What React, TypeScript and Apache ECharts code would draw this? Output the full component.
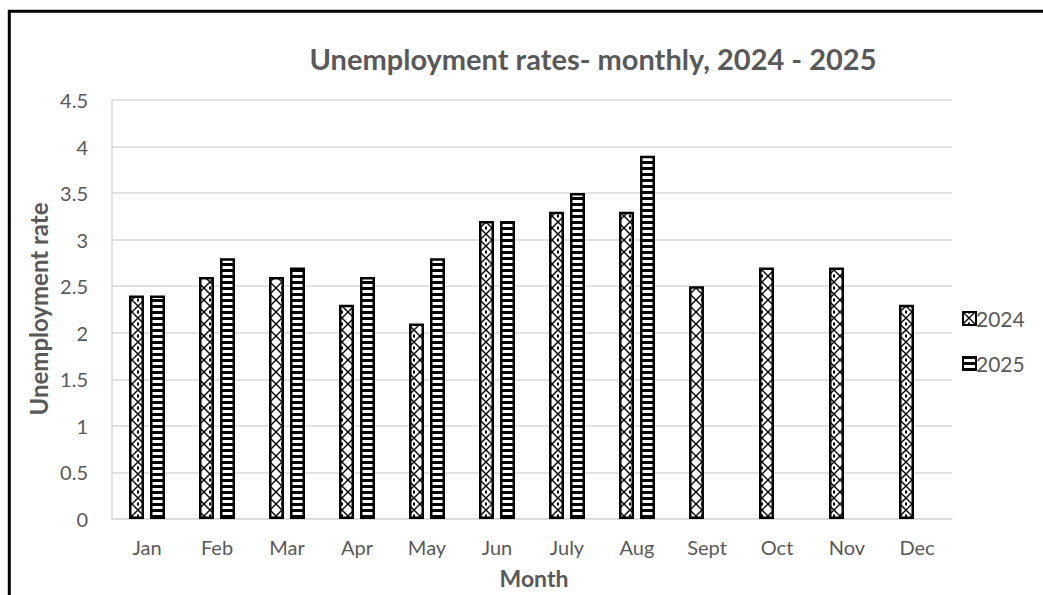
import React, { useEffect, useRef } from 'react';
import * as echarts from 'echarts';

const months = ['Jan', 'Feb', 'Mar', 'Apr', 'May', 'Jun', 'July', 'Aug', 'Sept', 'Oct', 'Nov', 'Dec'];
const rates2024 = [2.4, 2.6, 2.6, 2.3, 2.1, 3.2, 3.3, 3.3, 2.5, 2.7, 2.7, 2.3];
const rates2025 = [2.4, 2.8, 2.7, 2.6, 2.8, 3.2, 3.5, 3.9, null, null, null, null];
const seriesNames = ['2024', '2025'];
const titleText = 'Unemployment rates- monthly, 2024 - 2025';
const yAxisTitle = 'Unemployment rate';
const xAxisTitle = 'Month';

const FONT = 'Lato, "Open Sans", sans-serif';
const GRAY = '#595959';

function crossTile(): HTMLCanvasElement {
  const s = 12;
  const c = document.createElement('canvas');
  c.width = s;
  c.height = s;
  const g = c.getContext('2d')!;
  g.fillStyle = '#ffffff';
  g.fillRect(0, 0, s, s);
  g.strokeStyle = '#000000';
  g.lineWidth = 1.4;
  g.beginPath();
  g.moveTo(0, 0);
  g.lineTo(s, s);
  g.moveTo(s, 0);
  g.lineTo(0, s);
  g.stroke();
  g.fillStyle = '#000000';
  g.fillRect(s / 2 - 1, 0, 2, 1.5);
  g.fillRect(s / 2 - 1, s - 1.5, 2, 1.5);
  return c;
}

function stripeTile(): HTMLCanvasElement {
  const w = 6;
  const h = 6;
  const c = document.createElement('canvas');
  c.width = w;
  c.height = h;
  const g = c.getContext('2d')!;
  g.fillStyle = '#000000';
  g.fillRect(0, 0, w, h);
  g.fillStyle = '#ffffff';
  g.fillRect(0, 2, w, 3);
  return c;
}

export default function App() {
  const ref = useRef<HTMLDivElement>(null);

  useEffect(() => {
    if (!ref.current) return;
    const chart = echarts.init(ref.current, undefined, { renderer: 'svg' });
    const p1 = crossTile();
    const p2 = stripeTile();
    const pattern1: any = { image: p1, repeat: 'repeat', imageWidth: p1.width, imageHeight: p1.height };
    const pattern2: any = { image: p2, repeat: 'repeat', imageWidth: p2.width, imageHeight: p2.height };

    chart.setOption({
      animation: false,
      backgroundColor: '#ffffff',
      title: {
        text: titleText,
        left: 588,
        top: 39,
        textAlign: 'center',
        textStyle: { fontFamily: FONT, fontSize: 29, fontWeight: 'bold', color: GRAY },
      },
      legend: {
        orient: 'vertical',
        left: 957,
        top: 303,
        itemWidth: 13,
        itemHeight: 13,
        itemGap: 24,
        icon: 'rect',
        data: seriesNames,
        textStyle: { fontFamily: FONT, fontSize: 21, color: GRAY, padding: [0, 0, 0, -5] },
      },
      grid: { left: 112, right: 91, top: 100, bottom: 76, containLabel: false },
      xAxis: {
        type: 'category',
        data: months,
        axisLine: { show: true, lineStyle: { color: '#d9d9d9', width: 1.5 } },
        axisTick: { show: false },
        axisLabel: { fontFamily: FONT, fontSize: 20, color: GRAY, margin: 18 },
      },
      yAxis: {
        type: 'value',
        min: 0,
        max: 4.5,
        interval: 0.5,
        axisLine: { show: true, lineStyle: { color: '#d9d9d9', width: 1.5 } },
        axisTick: { show: false },
        splitLine: { show: true, lineStyle: { color: '#d9d9d9', width: 1.5 } },
        axisLabel: { fontFamily: FONT, fontSize: 20, color: GRAY, margin: 24 },
      },
      series: [
        {
          name: seriesNames[0],
          type: 'bar',
          data: rates2024,
          barWidth: 15,
          barGap: '40%',
          itemStyle: { color: pattern1, borderColor: '#000000', borderWidth: 2.5 },
        },
        {
          name: seriesNames[1],
          type: 'bar',
          data: rates2025,
          barWidth: 15,
          barGap: '40%',
          itemStyle: { color: pattern2, borderColor: '#000000', borderWidth: 2.5 },
        },
      ],
      graphic: [
        {
          type: 'rect',
          shape: { x: 9.3, y: 11.3, width: 1200, height: 800 },
          style: { fill: 'none', stroke: '#000000', lineWidth: 3 },
          silent: true,
        },
        {
          type: 'text',
          x: 38,
          y: 309,
          rotation: Math.PI / 2,
          style: {
            text: yAxisTitle,
            fontFamily: FONT,
            fontSize: 24,
            fontWeight: 'bold',
            fill: GRAY,
            align: 'center',
            verticalAlign: 'middle',
          },
        },
        {
          type: 'text',
          x: 534,
          y: 578,
          style: {
            text: xAxisTitle,
            fontFamily: FONT,
            fontSize: 23,
            fontWeight: 'bold',
            fill: GRAY,
            align: 'center',
            verticalAlign: 'middle',
          },
        },
      ],
    });
    return () => chart.dispose();
  }, []);

  return (
    <div
      ref={ref}
      style={{ position: 'absolute', left: 0, top: 0, width: 1043, height: 595 }}
    />
  );
}
